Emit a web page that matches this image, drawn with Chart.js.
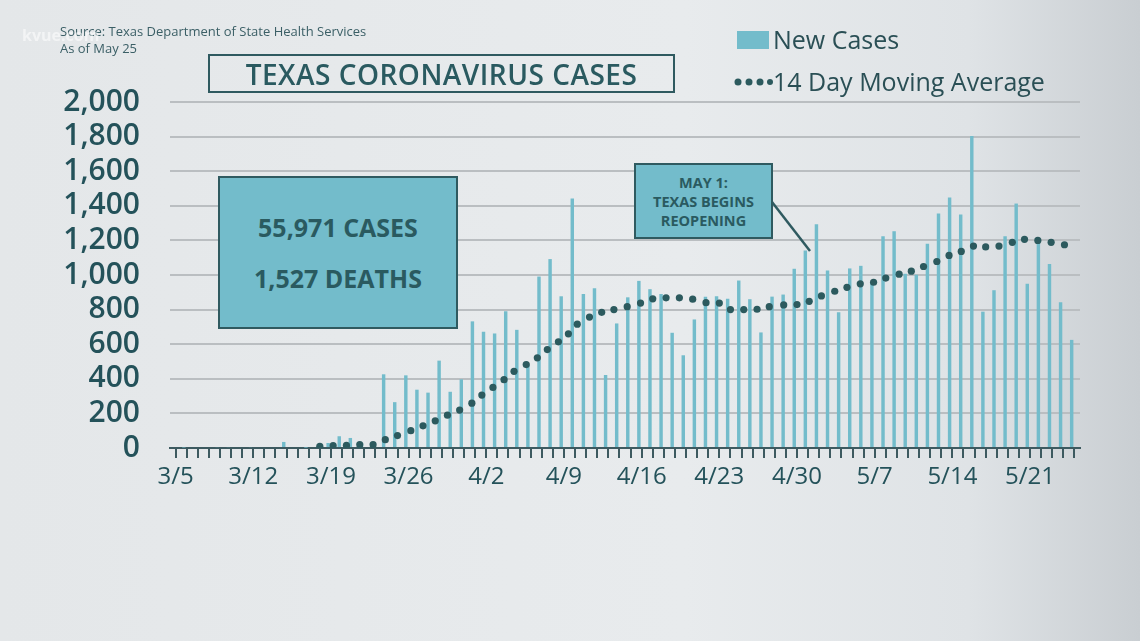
<!DOCTYPE html>
<html><head><meta charset="utf-8">
<script src="https://cdn.jsdelivr.net/npm/chart.js@4"></script>
<style>
body{margin:0;width:1140px;height:641px;overflow:hidden;background:linear-gradient(90deg,#e4e7e9 0%,#e8ebed 60%,#dfe3e6 85%,#c9ced2 100%);font-family:"Open Sans",sans-serif;color:#2a5a60}
#c{position:absolute;left:0;top:0}
.abs{position:absolute}
.box{border:2.5px solid #2f5a60;box-sizing:border-box;display:flex;flex-direction:column;align-items:center;justify-content:center;font-weight:700}
</style></head><body>
<canvas id="c" width="1140" height="641"></canvas>
<div class="abs" style="left:60px;top:23px;font-size:13px;line-height:17px;color:#3b5f66">Source: Texas Department of State Health Services<br>As of May 25</div>
<div class="abs" style="left:22px;top:24px;font-size:16px;color:rgba(255,255,255,0.55);font-weight:700">kvue.com</div>
<div class="abs box" style="left:208px;top:54px;width:467px;height:39px;font-size:28px;font-weight:600;letter-spacing:0.5px">TEXAS CORONAVIRUS CASES</div>
<div class="abs box" style="left:218px;top:176px;width:240px;height:153px;background:#73bccb;font-size:25px;justify-content:space-evenly;padding:14px 0">
<div>55,971 CASES</div><div>1,527 DEATHS</div></div>
<div class="abs box" style="left:634px;top:163px;width:139px;height:76px;background:#73bccb;font-size:14.5px;line-height:19px;text-align:center">MAY 1:<br>TEXAS BEGINS<br>REOPENING</div>
<svg class="abs" style="left:0;top:0" width="1140" height="641"><line x1="772" y1="202" x2="810" y2="251" stroke="#2f5a60" stroke-width="2.5"/></svg>
<div class="abs" style="left:737px;top:31px;width:32px;height:18px;background:#73bccb"></div>
<div class="abs" style="left:773px;top:22px;font-size:25px;font-weight:500;color:#2a4f55">New Cases</div>
<svg class="abs" style="left:733px;top:76px" width="40" height="12"><circle cx="5" cy="6" r="3.5" fill="#2c5a5e"/><circle cx="16" cy="6" r="3.5" fill="#2c5a5e"/><circle cx="27" cy="6" r="3.5" fill="#2c5a5e"/><circle cx="37" cy="6" r="3" fill="#2c5a5e"/></svg>
<div class="abs" style="left:773px;top:64px;font-size:25px;font-weight:500;color:#2a4f55">14 Day Moving Average</div>
<script>
const dates=[];
(function(){let mo=3,d=5;for(let i=0;i<82;i++){dates.push(mo+'/'+d);d++;if(d>(mo==4?30:31)){d=1;mo++;}}})();
const newCases=[0,3,0,0,5,5,0,5,0,0,35,0,2,0,29,68,58,29,10,426,
265,420,337,320,505,325,397,732,672,662,790,683,480,991,1092,877,1442,890,923,422,
720,871,966,918,890,666,536,743,875,877,862,968,860,668,875,887,1036,1142,1293,1026,
784,1038,1053,958,1224,1253,1007,1001,1181,1355,1448,1349,1804,788,912,1224,1413,949,1185,1063,
842,625];
const maDays=[13.0,14.2,15.4,16.6,17.8,18.9,20.0,21.2,22.3,23.4,24.5,25.6,26.7,27.6,28.6,29.6,30.5,31.6,32.6,33.5,34.5,35.4,36.2,37.3,38.4,39.5,40.7,
41.9,43.0,44.2,45.4,46.6,47.8,49.0,50.0,51.2,52.4,53.5,54.8,56.0,57.1,58.2,59.4,60.5,61.7,62.9,64.0,65.2,66.3,67.4,68.6,69.7,70.8,71.9,73.0,74.2,75.4,76.5,77.7,78.9,80.1];
const maValues=[10,14,15,19,19,48,72,100,128,157,190,219,259,306,350,395,443,482,521,569,614,660,716,757,784,800,817,
838,862,868,868,860,840,838,800,800,802,817,827,829,848,879,906,929,949,958,982,1005,1022,1049,1078,1113,1136,1167,1162,1167,1189,1206,1200,1189,1175];
const yTicks=[0,200,400,600,800,1000,1200,1400,1600,1800,2000];
const dark='#24525a';
new Chart(document.getElementById('c'),{
 data:{labels:dates,datasets:[
  {type:'bar',data:newCases,backgroundColor:'#73bccb',barPercentage:0.62,categoryPercentage:1,order:2},
  {type:'line',xAxisID:'x2',data:maDays.map((d,i)=>({x:d,y:maValues[i]})),showLine:false,pointRadius:3.6,pointBackgroundColor:'#2c5a5e',pointBorderWidth:0,order:1}
 ]},
 options:{responsive:false,animation:false,events:[],
  layout:{padding:{left:25,right:60,top:102,bottom:143}},
  plugins:{legend:{display:false},tooltip:{enabled:false}},
  scales:{
   x:{type:'category',offset:true,grid:{drawOnChartArea:false,color:'#3d5a60',tickLength:10,lineWidth:2,offset:false},
      border:{color:'#3d5a60',width:2},
      afterFit:s=>{s.height=50;},
      ticks:{autoSkip:false,maxRotation:0,color:dark,font:{family:'Open Sans',size:24},padding:5,
        callback:(v,i)=>i%7===0?dates[i]:''}},
   x2:{type:'linear',display:false,min:-0.5,max:81.5},
   y:{min:0,max:2000,afterBuildTicks:s=>{s.ticks=yTicks.map(v=>({value:v}));},
      afterFit:s=>{s.width=145;},
      grid:{color:'#babec1',lineWidth:2,drawTicks:false},border:{display:false},
      ticks:{autoSkip:false,color:dark,font:{family:'Open Sans',size:30,weight:'600'},padding:30,callback:v=>v.toLocaleString('en-US')}}
  }}
});
</script></body></html>
